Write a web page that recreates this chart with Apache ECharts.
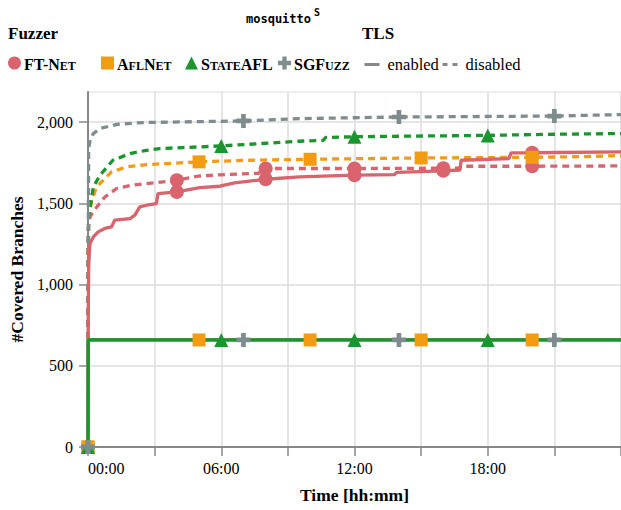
<!DOCTYPE html>
<html><head><meta charset="utf-8">
<script src="https://cdn.jsdelivr.net/npm/echarts@6/dist/echarts.min.js"></script>
<style>html,body{margin:0;padding:0;background:#fff;overflow:hidden}#c{width:621px;height:510px}</style>
</head><body><div id="c"></div>
<script>
// ---- data (time in hours, covered branches) ----
const fuzzers = ['FT-Net', 'AFLNet', 'StateAFL', 'SGFuzz'];
const markerEveryHours = [4, 5, 6, 7];
const xTickLabels = [0, 6, 12, 18];
const yTickLabels = [0, 500, 1000, 1500, 2000];

// TLS enabled (solid)
const ftNetEnabled = [[0,0],[0.01,800],[0.03,1100],[0.06,1200],[0.09,1253],[0.24,1293],[0.46,1324],[0.76,1345],[1.06,1355],[1.2,1396],[1.89,1406],[2.11,1427],[2.33,1478],[2.63,1488],[3.08,1498],[3.15,1560],[4,1570],[5.03,1597],[5.93,1605],[6.6,1625],[8,1648],[9.52,1662],[12,1673],[13.8,1677],[13.9,1690],[16,1700],[16.75,1705],[16.8,1765],[18.95,1775],[19.05,1810],[20,1811],[24,1816]];
const aflNetEnabled = [[0,0],[0.01,659],[5,659],[10,659],[15,659],[20,659],[24,659]];
const stateAflEnabled = [[0,0],[0.01,659],[6,659],[12,659],[18,659],[24,659]];
const sgFuzzEnabled = [[0,0],[0.01,659],[7,659],[14,659],[21,659],[24,659]];

// TLS disabled (dashed)
const ftNetDisabled = [[0,0],[0.01,1200],[0.03,1377],[0.1,1420],[0.4,1478],[0.76,1539],[1.29,1591],[1.96,1611],[2.63,1621],[3.16,1628],[4,1642],[5,1668],[5.93,1675],[7.7,1685],[7.8,1714],[8,1714],[12,1714],[16,1716],[16.7,1717],[16.8,1728],[20,1728],[24,1730]];
const aflNetDisabled = [[0,0],[0.01,1300],[0.03,1420],[0.17,1519],[0.39,1601],[1.06,1693],[1.74,1724],[2.63,1738],[5,1755],[7.28,1765],[10,1771],[15,1779],[20,1783],[22.5,1788],[24,1794]];
const stateAflDisabled = [[0,0],[0.01,1150],[0.03,1416],[0.24,1601],[0.54,1673],[1.12,1765],[1.89,1806],[2.63,1826],[3.23,1837],[6,1853],[9.5,1882],[10.6,1888],[10.7,1905],[12,1910],[18,1918],[21,1925],[24,1929]];
const sgFuzzDisabled = [[0,0],[0.01,1200],[0.03,1840],[0.1,1890],[0.24,1929],[0.54,1960],[1.3,1986],[2.48,1997],[3.8,2000],[7,2007],[9.5,2021],[14,2031],[21,2037],[24,2046]];

const enabledSets = [ftNetEnabled, aflNetEnabled, stateAflEnabled, sgFuzzEnabled];
const disabledSets = [ftNetDisabled, aflNetDisabled, stateAflDisabled, sgFuzzDisabled];

// ---- styles ----
const colors = ['#d9646d', '#f39c12', '#1b962f', '#7f8c8d'];
const plusPath = 'path://M4,0H8V4H12V8H8V12H4V8H0V4H4Z';
const symbols = ['circle', 'rect', 'triangle', plusPath];
const symbolSizes = [14, 13, 14, 14];
const SERIF = '"Liberation Serif", "DejaVu Serif", serif';
const legendLabels = {
  'FT-Net': '{b|FT-N}{s|ET}',
  'AFLNet': '{b|A}{s|FL}{b|N}{s|ET}',
  'StateAFL': '{b|S}{s|TATE}{b|AFL}',
  'SGFuzz': '{b|SGF}{s|UZZ}'
};
const legendLeft = [8, 101, 185, 278];

function markersOf(sets, every) {
  const out = [];
  sets.forEach(a => a.forEach(p => { if (p[0] % every === 0 && p[0] < 24) out.push(p); }));
  return out;
}

const series = [];
fuzzers.forEach((f, i) => series.push({
  name: f + ' disabled', type: 'line', data: disabledSets[i], symbol: 'none', showSymbol: false,
  lineStyle: { color: colors[i], width: 3.3, type: [7, 5] }, z: 2, silent: true
}));
[0, 1, 3, 2].forEach(i => series.push({
  name: fuzzers[i] + ' enabled', type: 'line', data: enabledSets[i], symbol: 'none', showSymbol: false,
  lineStyle: { color: colors[i], width: 3.3, type: 'solid' }, z: 3, silent: true
}));
fuzzers.forEach((f, i) => series.push({
  name: f, type: 'scatter', data: markersOf([enabledSets[i], disabledSets[i]], markerEveryHours[i]),
  symbol: symbols[i], symbolSize: symbolSizes[i], itemStyle: { color: colors[i], opacity: 1 }, z: 5 + i, silent: true
}));
series.push({ name: 'enabled', type: 'line', data: [], symbol: 'none', itemStyle: { color: '#888' }, lineStyle: { color: '#888', width: 3, type: 'solid' } });
series.push({ name: 'disabled', type: 'line', data: [], symbol: 'none', itemStyle: { color: '#888' }, lineStyle: { color: '#888', width: 3, type: [5, 5] } });

const legends = fuzzers.map((f, i) => ({
  data: [f], left: legendLeft[i], top: 56, padding: 0, itemWidth: 13, itemHeight: 13, itemGap: 0,
  selectedMode: false,
  formatter: n => legendLabels[n],
  textStyle: {
    color: '#000', padding: [0, 0, 0, -2],
    rich: {
      b: { fontFamily: SERIF, fontWeight: 'bold', fontSize: 16, color: '#000', verticalAlign: 'bottom', lineHeight: 18 },
      s: { fontFamily: SERIF, fontWeight: 'bold', fontSize: 12, color: '#000', verticalAlign: 'bottom', lineHeight: 16 }
    }
  }
}));
const tlsLegendStyle = {
  top: 56, padding: 0, itemWidth: 15, itemHeight: 13, selectedMode: false,
  itemStyle: { color: 'rgba(0,0,0,0)', borderWidth: 0, opacity: 0 },
  lineStyle: { width: 3, color: '#888' },
  textStyle: { fontFamily: SERIF, fontSize: 16.5, fontWeight: 'normal', color: '#000', padding: [0, 0, 0, 3] }
};
legends.push(Object.assign({ data: ['enabled'], left: 363 }, tlsLegendStyle));
legends.push(Object.assign({ data: ['disabled'], left: 441 }, tlsLegendStyle));

const option = {
  animation: false,
  backgroundColor: '#fff',
  title: [
    { text: 'mosquitto', left: 246, top: 13, padding: 0, textStyle: { fontFamily: '"DejaVu Sans Mono", monospace', fontSize: 12, fontWeight: 'bold', color: '#000' } },
    { text: 'S', left: 314, top: 7, padding: 0, textStyle: { fontFamily: '"DejaVu Sans Mono", monospace', fontSize: 10, fontWeight: 'bold', color: '#000' } },
    { text: 'Fuzzer', left: 8, top: 25, padding: 0, textStyle: { fontFamily: SERIF, fontSize: 17, fontWeight: 'bold', color: '#000' } },
    { text: 'TLS', left: 362, top: 25, padding: 0, textStyle: { fontFamily: SERIF, fontSize: 17, fontWeight: 'bold', color: '#000' } }
  ],
  legend: legends,
  grid: { left: 88, top: 92, width: 535, height: 355, show: true, borderColor: '#ddd', borderWidth: 1, containLabel: false },
  xAxis: {
    type: 'value', min: 0, max: 24, interval: 3,
    name: 'Time [hh:mm]', nameLocation: 'middle', nameGap: 39,
    nameTextStyle: { fontFamily: SERIF, fontSize: 17.5, fontWeight: 'bold', color: '#000' },
    axisLine: { show: true, onZero: false, lineStyle: { color: '#888', width: 2 } },
    axisTick: { show: true, length: 9, lineStyle: { color: '#888', width: 1.5 } },
    splitLine: { show: true, lineStyle: { color: '#ddd', width: 1.5 } },
    axisLabel: {
      customValues: xTickLabels, margin: 13, alignMinLabel: 'left',
      fontFamily: SERIF, fontSize: 16, color: '#000',
      formatter: v => String(v).padStart(2, '0') + ':00'
    }
  },
  yAxis: {
    type: 'value', min: 0, max: 2185, interval: 500,
    name: '#Covered Branches', nameLocation: 'middle', nameGap: 62,
    nameTextStyle: { fontFamily: SERIF, fontSize: 17.5, fontWeight: 'bold', color: '#000' },
    axisLine: { show: true, onZero: false, lineStyle: { color: '#888', width: 2 } },
    axisTick: { show: true, length: 9, customValues: yTickLabels, lineStyle: { color: '#888', width: 1.5 } },
    splitLine: { show: true, lineStyle: { color: '#ddd', width: 1.5 } },
    axisLabel: {
      customValues: yTickLabels, margin: 15,
      fontFamily: SERIF, fontSize: 16, color: '#000',
      formatter: v => v.toLocaleString('en-US')
    }
  },
  series: series
};

const chart = echarts.init(document.getElementById('c'), null, { renderer: 'svg' });
chart.setOption(option);
</script>
</body></html>
